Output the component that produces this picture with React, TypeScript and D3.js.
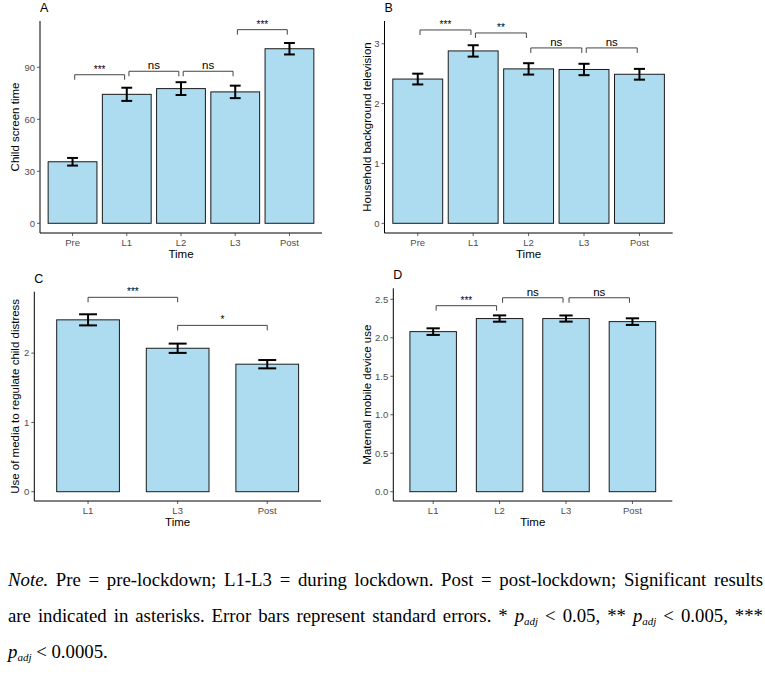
import React, { useEffect, useRef } from 'react';
import * as d3 from 'd3';

// ---- data ----
const timesA = ['Pre', 'L1', 'L2', 'L3', 'Post'];
const screenTime = [35.5, 74.4, 77.7, 75.8, 100.7];
const screenTimeSE = [2.2, 3.8, 3.7, 3.6, 3.3];
const ticksA = [0, 30, 60, 90];
const signifA = [
  { from: 'Pre', to: 'L1', y: 85.7, label: '***' },
  { from: 'L1', to: 'L2', y: 87.7, label: 'ns' },
  { from: 'L2', to: 'L3', y: 87.7, label: 'ns' },
  { from: 'L3', to: 'Post', y: 111.7, label: '***' },
];

const timesB = ['Pre', 'L1', 'L2', 'L3', 'Post'];
const backgroundTv = [2.41, 2.88, 2.58, 2.57, 2.49];
const backgroundTvSE = [0.09, 0.095, 0.095, 0.095, 0.09];
const ticksB = [0, 1, 2, 3];
const signifB = [
  { from: 'Pre', to: 'L1', y: 3.23, label: '***' },
  { from: 'L1', to: 'L2', y: 3.18, label: '**' },
  { from: 'L2', to: 'L3', y: 2.93, label: 'ns' },
  { from: 'L3', to: 'Post', y: 2.93, label: 'ns' },
];

const timesC = ['L1', 'L3', 'Post'];
const mediaRegulate = [2.48, 2.07, 1.84];
const mediaRegulateSE = [0.08, 0.067, 0.06];
const ticksC = [0, 1, 2];
const signifC = [
  { from: 'L1', to: 'L3', y: 2.805, label: '***' },
  { from: 'L3', to: 'Post', y: 2.4, label: '*' },
];

const timesD = ['L1', 'L2', 'L3', 'Post'];
const mobileUse = [2.08, 2.25, 2.25, 2.21];
const mobileUseSE = [0.043, 0.041, 0.04, 0.043];
const ticksD = [0, 0.5, 1, 1.5, 2, 2.5];
const signifD = [
  { from: 'L1', to: 'L2', y: 2.417, label: '***' },
  { from: 'L2', to: 'L3', y: 2.52, label: 'ns' },
  { from: 'L3', to: 'Post', y: 2.52, label: 'ns' },
];

type Signif = { from: string; to: string; y: number; label: string };

interface PanelProps {
  letter: string;
  yTitle: string;
  cats: string[];
  values: number[];
  se: number[];
  ticks: number[];
  tickFmt: (v: number) => string;
  signif: Signif[];
  x0: number;
  x1: number;
  yTop: number;
  yBottom: number;
  yDomain: [number, number];
  barWidth: number; // fraction of step
  inset: number; // bracket inset, fraction of step
  titleX: number;
}

const SANS = "'Liberation Sans', Arial, sans-serif";

const Panel: React.FC<PanelProps> = (p) => {
  const x = d3.scalePoint<string>().domain(p.cats).range([p.x0, p.x1]).padding(0.6);
  const y = d3.scaleLinear().domain(p.yDomain).range([p.yBottom, p.yTop]);
  const step = x.step();
  const bw = step * p.barWidth;
  const capW = step * 0.2;
  const tip = 5;
  const midX = (p.x0 + p.x1) / 2;
  const midY = (p.yTop + p.yBottom) / 2;

  return (
    <g>
      <text x={p.x0} y={p.yTop - 9} fontFamily={SANS} fontSize={12.5}>{p.letter}</text>
      {/* bars */}
      {p.cats.map((c, i) => (
        <rect key={c} x={x(c)! - bw / 2} y={y(p.values[i])} width={bw}
          height={y(0) - y(p.values[i])} fill="#ADDBF0" stroke="#1a1a1a" strokeWidth={1} />
      ))}
      {/* error bars */}
      {p.cats.map((c, i) => {
        const cx = x(c)!;
        const lo = y(p.values[i] - p.se[i]);
        const hi = y(p.values[i] + p.se[i]);
        return (
          <g key={c} stroke="#000" strokeWidth={2}>
            <line x1={cx} x2={cx} y1={lo} y2={hi} />
            <line x1={cx - capW / 2} x2={cx + capW / 2} y1={lo} y2={lo} />
            <line x1={cx - capW / 2} x2={cx + capW / 2} y1={hi} y2={hi} />
          </g>
        );
      })}
      {/* significance brackets */}
      {p.signif.map((s, i) => {
        const xa = x(s.from)! + p.inset * step;
        const xb = x(s.to)! - p.inset * step;
        const yy = y(s.y);
        return (
          <g key={i}>
            <path d={`M${xa},${yy + tip}V${yy}H${xb}V${yy + tip}`} fill="none" stroke="#444" strokeWidth={1} />
            <text x={(xa + xb) / 2} y={yy - 2} textAnchor="middle" fontFamily={SANS}
              fontSize={s.label === 'ns' ? 11.5 : 10} fill="#000">{s.label}</text>
          </g>
        );
      })}
      {/* axes */}
      <line x1={p.x0} x2={p.x0} y1={p.yTop} y2={p.yBottom} stroke="#000" strokeWidth={1} />
      <line x1={p.x0} x2={p.x1} y1={p.yBottom} y2={p.yBottom} stroke="#000" strokeWidth={1} />
      {p.ticks.map((t) => (
        <g key={t}>
          <line x1={p.x0 - 3} x2={p.x0} y1={y(t)} y2={y(t)} stroke="#333" strokeWidth={0.8} />
          <text x={p.x0 - 5} y={y(t)} dy="0.35em" textAnchor="end" fontFamily={SANS}
            fontSize={9.5} fill="#4d4d4d">{p.tickFmt(t)}</text>
        </g>
      ))}
      {p.cats.map((c) => (
        <g key={c}>
          <line x1={x(c)} x2={x(c)} y1={p.yBottom} y2={p.yBottom + 3} stroke="#333" strokeWidth={0.8} />
          <text x={x(c)} y={p.yBottom + 12.5} textAnchor="middle" fontFamily={SANS}
            fontSize={9.5} fill="#4d4d4d">{c}</text>
        </g>
      ))}
      <text x={midX} y={p.yBottom + 25} textAnchor="middle" fontFamily={SANS} fontSize={11.5}>Time</text>
      <text transform={`translate(${p.titleX},${midY}) rotate(-90)`} textAnchor="middle"
        fontFamily={SANS} fontSize={11.5}>{p.yTitle}</text>
    </g>
  );
};

const SERIF = "'Liberation Serif', 'Times New Roman', serif";

const Sub: React.FC = () => (
  <>
    <tspan fontStyle="italic">p</tspan>
    <tspan fontStyle="italic" fontSize={11} dy={3}>adj</tspan>
    <tspan dy={-3}> </tspan>
  </>
);

const App: React.FC = () => {
  const intFmt = d3.format('d');
  const oneDec = d3.format('.1f');
  const noteRef = useRef<SVGGElement | null>(null);

  // justify the first two note lines by widening the word gaps
  useEffect(() => {
    if (!noteRef.current) return;
    d3.select(noteRef.current)
      .selectAll<SVGTextElement, unknown>('text.justify')
      .each(function () {
        const el = d3.select(this);
        el.attr('word-spacing', 0);
        const natural = this.getComputedTextLength();
        const gaps = (this.textContent || '').split(' ').length - 1;
        if (gaps > 0) el.attr('word-spacing', Math.max(0, (755 - natural) / gaps));
      });
  }, []);

  return (
    <div style={{ position: 'absolute', left: 0, top: 0 }}>
      <svg width={765} height={686} style={{ display: 'block', background: '#fff' }}>
        <Panel letter="A" yTitle="Child screen time" cats={timesA} values={screenTime} se={screenTimeSE}
          ticks={ticksA} tickFmt={intFmt} signif={signifA} x0={40} x1={322} yTop={21} yBottom={233}
          yDomain={[-5.6, 116.7]} barWidth={0.9} inset={0.04} titleX={19} />
        <Panel letter="B" yTitle="Household background television" cats={timesB} values={backgroundTv}
          se={backgroundTvSE} ticks={ticksB} tickFmt={intFmt} signif={signifB} x0={384.5} x1={672.7}
          yTop={21} yBottom={233} yDomain={[-0.162, 3.38]} barWidth={0.9} inset={0.04} titleX={371} />
        <Panel letter="C" yTitle="Use of media to regulate child distress" cats={timesC} values={mediaRegulate}
          se={mediaRegulateSE} ticks={ticksC} tickFmt={intFmt} signif={signifC} x0={34.3} x1={321}
          yTop={291.7} yBottom={501} yDomain={[-0.134, 2.886]} barWidth={0.7} inset={0} titleX={19} />
        <Panel letter="D" yTitle="Maternal mobile device use" cats={timesD} values={mobileUse}
          se={mobileUseSE} ticks={ticksD} tickFmt={oneDec} signif={signifD} x0={393.3} x1={672.3}
          yTop={288.3} yBottom={501} yDomain={[-0.121, 2.643]} barWidth={0.7} inset={0.045} titleX={371} />

        <g ref={noteRef} style={{ fontFamily: SERIF }} fontSize={18.8} fill="#000">
          <text className="justify" x={8} y={586}>
            <tspan fontStyle="italic">Note.</tspan> Pre = pre-lockdown; L1-L3 = during lockdown. Post = post-lockdown; Significant results
          </text>
          <text className="justify" x={8} y={622}>
            are indicated in asterisks. Error bars represent standard errors. * <Sub />&lt; 0.05, ** <Sub />&lt; 0.005, ***
          </text>
          <text x={8} y={658}>
            <Sub />&lt; 0.0005.
          </text>
        </g>
      </svg>
    </div>
  );
};

export default App;
